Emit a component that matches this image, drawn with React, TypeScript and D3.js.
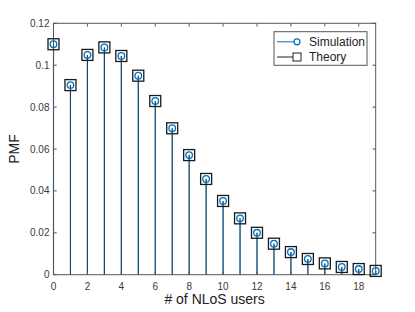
import React from "react";
import * as d3 from "d3";

const users = [0, 1, 2, 3, 4, 5, 6, 7, 8, 9, 10, 11, 12, 13, 14, 15, 16, 17, 18, 19];
const simulation = [0.110, 0.0905, 0.1049, 0.1085, 0.1044, 0.095, 0.0829, 0.0699, 0.0571, 0.0457, 0.0352, 0.0269, 0.0200, 0.0148, 0.0108, 0.0075, 0.0054, 0.0037, 0.0027, 0.0018];
const theory = [0.110, 0.0905, 0.1049, 0.1085, 0.1044, 0.095, 0.0829, 0.0699, 0.0571, 0.0457, 0.0352, 0.0269, 0.0200, 0.0148, 0.0108, 0.0075, 0.0054, 0.0037, 0.0027, 0.0018];
const xTicks = [0, 2, 4, 6, 8, 10, 12, 14, 16, 18];
const yTicks = [0, 0.02, 0.04, 0.06, 0.08, 0.1, 0.12];
const yTickLabels = ["0", "0.02", "0.04", "0.06", "0.08", "0.1", "0.12"];
const seriesNames = ["Simulation", "Theory"];

const W = 415, H = 312;
const L = 53.5, R = 375.7, T = 23.3, B = 274.7;
const BLUE = "#0072BD";
const AX = "#555";
const FONT = "'Liberation Sans', Arial, Helvetica, sans-serif";

export default function App() {
  const x = d3.scaleLinear().domain([0, 19]).range([L, R]);
  const y = d3.scaleLinear().domain([0, 0.12]).range([B, T]);
  const tk = 3.2;
  return (
    <svg width={W} height={H} style={{ position: "absolute", left: 0, top: 0, background: "#fff" }}>
      <rect x={0} y={0} width={W} height={H} fill="#fff" />
      {users.map((u, i) => (
        <line key={"sb" + i} x1={x(u)} x2={x(u)} y1={y(0)} y2={y(simulation[i])} stroke={BLUE} strokeWidth={1.1} />
      ))}
      {users.map((u, i) => (
        <line key={"st" + i} x1={x(u)} x2={x(u)} y1={y(0)} y2={y(theory[i])} stroke="#1a1a1a" strokeWidth={1.1} strokeOpacity={0.55} />
      ))}
      <rect x={L} y={T} width={R - L} height={B - T} fill="none" stroke={AX} strokeWidth={1} />
      {xTicks.map((t) => (
        <g key={"xt" + t}>
          <line x1={x(t)} x2={x(t)} y1={B} y2={B - tk} stroke={AX} />
          <line x1={x(t)} x2={x(t)} y1={T} y2={T + tk} stroke={AX} />
          <text x={x(t)} y={B + 15} textAnchor="middle" fontFamily={FONT} fontSize={10} fill="#3a3a3a">{t}</text>
        </g>
      ))}
      {yTicks.map((t, i) => (
        <g key={"yt" + t}>
          <line x1={L} x2={L + tk} y1={y(t)} y2={y(t)} stroke={AX} />
          <line x1={R} x2={R - tk} y1={y(t)} y2={y(t)} stroke={AX} />
          <text x={L - 4} y={y(t) + 3.5} textAnchor="end" fontFamily={FONT} fontSize={10} fill="#3a3a3a">{yTickLabels[i]}</text>
        </g>
      ))}
      {users.map((u, i) => (
        <rect key={"sq" + i} x={x(u) - 5.5} y={y(theory[i]) - 5.5} width={11} height={11} fill="none" stroke="#1a1a1a" strokeWidth={1.3} />
      ))}
      {users.map((u, i) => (
        <circle key={"c" + i} cx={x(u)} cy={y(simulation[i])} r={3.3} fill="none" stroke={BLUE} strokeWidth={1.3} />
      ))}
      <text x={(L + R) / 2} y={303.5} textAnchor="middle" fontFamily={FONT} fontSize={14} fill="#222">
        # of NLoS users
      </text>
      <text transform={`translate(19, ${(T + B) / 2}) rotate(-90)`} textAnchor="middle" fontFamily={FONT} fontSize={14} fill="#222">
        PMF
      </text>
      <rect x={274} y={31.7} width={93} height={33.6} fill="#fff" stroke={AX} strokeWidth={1} />
      <line x1={277} x2={297} y1={41.8} y2={41.8} stroke={BLUE} strokeWidth={1} />
      <circle cx={297} cy={41.8} r={3} fill="#fff" stroke={BLUE} strokeWidth={1.2} />
      <text x={309} y={46} fontFamily={FONT} fontSize={12} fill="#222">{seriesNames[0]}</text>
      <line x1={277} x2={297} y1={57} y2={57} stroke="#222" strokeWidth={1} />
      <rect x={293} y={53} width={8} height={8} fill="#fff" stroke="#222" strokeWidth={1} />
      <text x={309} y={61.2} fontFamily={FONT} fontSize={12} fill="#222">{seriesNames[1]}</text>
    </svg>
  );
}
